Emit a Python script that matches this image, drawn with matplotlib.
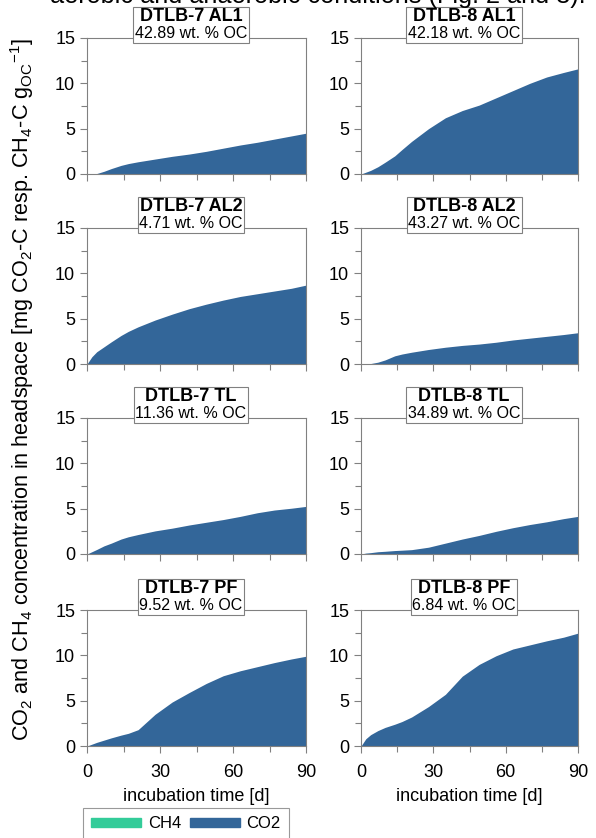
import matplotlib.pyplot as plt
from matplotlib.patches import Patch
from matplotlib.offsetbox import TextArea, VPacker, AnnotationBbox
from matplotlib.ticker import MultipleLocator

plt.rcParams['font.family'] = ['Liberation Sans', 'DejaVu Sans']
plt.rcParams['mathtext.fontset'] = 'custom'
plt.rcParams['mathtext.rm'] = 'Liberation Sans'
plt.rcParams['mathtext.it'] = 'Liberation Sans:italic'
plt.rcParams['mathtext.bf'] = 'Liberation Sans:bold'

# incubation days of the readings
days = [0, 2, 4, 7, 10, 14, 17, 21, 28, 35, 42, 49, 56, 63, 70, 77, 84, 90]

samples = ['DTLB-7 AL1', 'DTLB-8 AL1', 'DTLB-7 AL2', 'DTLB-8 AL2',
           'DTLB-7 TL', 'DTLB-8 TL', 'DTLB-7 PF', 'DTLB-8 PF']
oc_content = ['42.89', '42.18', '4.71', '43.27', '11.36', '34.89', '9.52', '6.84']

# cumulative CO2 (mg CO2-C per g OC)
co2_7_al1 = [0, 0, 0.05, 0.3, 0.6, 0.95, 1.15, 1.35, 1.65, 1.95, 2.2, 2.5, 2.85, 3.2, 3.5, 3.85, 4.2, 4.5]
co2_8_al1 = [0, 0.2, 0.4, 0.8, 1.3, 2.0, 2.7, 3.6, 5.0, 6.2, 7.0, 7.6, 8.4, 9.2, 10.0, 10.7, 11.2, 11.6]
co2_7_al2 = [0, 0.8, 1.35, 1.9, 2.45, 3.15, 3.6, 4.1, 4.85, 5.5, 6.1, 6.6, 7.05, 7.45, 7.75, 8.05, 8.35, 8.7]
co2_8_al2 = [0, 0, 0.05, 0.2, 0.45, 0.9, 1.1, 1.3, 1.6, 1.85, 2.05, 2.2, 2.4, 2.65, 2.85, 3.05, 3.25, 3.45]
co2_7_tl = [0, 0.25, 0.5, 0.9, 1.2, 1.65, 1.9, 2.15, 2.55, 2.85, 3.2, 3.5, 3.8, 4.15, 4.55, 4.85, 5.05, 5.25]
co2_8_tl = [0, 0.1, 0.15, 0.25, 0.3, 0.38, 0.42, 0.48, 0.75, 1.2, 1.65, 2.05, 2.5, 2.9, 3.25, 3.55, 3.9, 4.15]
co2_7_pf = [0, 0.2, 0.4, 0.65, 0.9, 1.2, 1.4, 1.8, 3.5, 4.85, 5.9, 6.9, 7.75, 8.3, 8.75, 9.2, 9.6, 9.9]
co2_8_pf = [0, 0.8, 1.25, 1.7, 2.05, 2.4, 2.7, 3.2, 4.35, 5.7, 7.7, 9.0, 9.95, 10.7, 11.15, 11.6, 12.0, 12.45]

co2 = [co2_7_al1, co2_8_al1, co2_7_al2, co2_8_al2,
       co2_7_tl, co2_8_tl, co2_7_pf, co2_8_pf]

co2_color = '#336699'
ch4_color = '#33cc99'
grey = '#808080'

W, H = 596, 838
fig = plt.figure(figsize=(W / 100, H / 100), dpi=100)

lefts = [87, 361]
widths = [219, 217]
tops = [38, 228, 418, 610]
ax_h = 136

for i, name in enumerate(samples):
    row, col = i // 2, i % 2
    x0 = lefts[col] / W
    y0 = 1 - (tops[row] + ax_h) / H
    ax = fig.add_axes([x0, y0, widths[col] / W, ax_h / H])
    ax.fill_between(days, co2[i], 0, color=co2_color, lw=0)
    ax.set_xlim(0, 90)
    ax.set_ylim(0, 15)
    ax.xaxis.set_major_locator(MultipleLocator(30))
    ax.xaxis.set_minor_locator(MultipleLocator(15))
    ax.yaxis.set_major_locator(MultipleLocator(5))
    ax.yaxis.set_minor_locator(MultipleLocator(2.5))
    ax.tick_params(which='both', direction='out', color=grey, labelsize=13, width=0.8)
    ax.tick_params(which='major', length=5)
    ax.tick_params(which='minor', length=4)
    ax.tick_params(axis='x', pad=8)
    for s in ax.spines.values():
        s.set_color(grey)
        s.set_linewidth(0.8)
    if row < 3:
        ax.set_xticklabels([])
    else:
        ax.set_xlabel('incubation time [d]', fontsize=13, labelpad=5)

    t1 = TextArea(name, textprops=dict(fontsize=13, fontweight='bold'))
    t2 = TextArea(oc_content[i] + ' wt. % OC', textprops=dict(fontsize=11.5))
    box = VPacker(children=[t1, t2], align='center', pad=0, sep=1)
    ab = AnnotationBbox(box, (0.475, 1.0), xycoords='axes fraction',
                        box_alignment=(0.5, 0.1), frameon=True, pad=0.1,
                        bboxprops=dict(edgecolor=grey, facecolor='white', lw=0.8))
    ax.add_artist(ab)

fig.text(22 / W, 1 - 390 / H,
         'CO$_2$ and CH$_4$ concentration in headspace [mg CO$_2$-C resp. CH$_4$-C g$_{\\mathrm{OC}}$$^{-1}$]',
         rotation=90, ha='center', va='center', fontsize=15.6)

# clipped sentence from the page above the figure
fig.text(318 / W, 1 - 3 / H, 'aerobic and anaerobic conditions (Fig. 2 and 3).',
         ha='center', va='baseline', fontsize=18.2)

handles = [Patch(color=ch4_color, label='CH4'), Patch(color=co2_color, label='CO2')]
leg = fig.legend(handles=handles, ncol=2, loc='upper left',
                 bbox_to_anchor=(83 / W, 1 - 808 / H), fontsize=12,
                 frameon=True, fancybox=False, edgecolor=grey,
                 handlelength=3.0, handleheight=0.5, columnspacing=0.5,
                 handletextpad=0.4, borderaxespad=0, borderpad=0.5)
leg.get_frame().set_linewidth(0.8)

fig.savefig('out.png', dpi=100)
